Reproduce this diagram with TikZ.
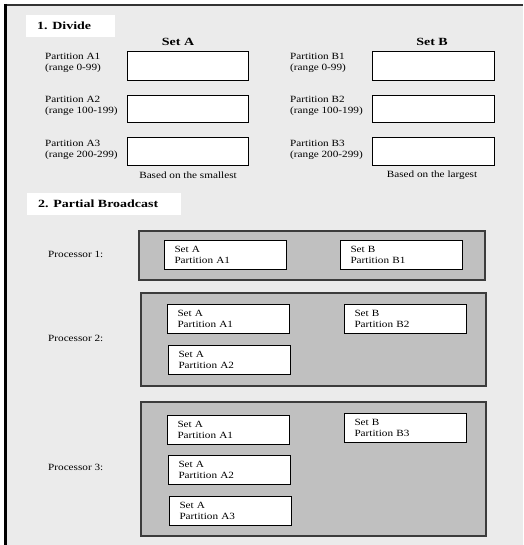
\documentclass[tikz,border=0pt]{standalone}
\usepackage{fontspec}
\setmainfont{Liberation Serif}
\newfontfamily\rfont[FakeStretch=1.18]{Liberation Serif}
\newfontfamily\bfont[FakeStretch=1.27]{Liberation Serif}
\definecolor{bgray}{HTML}{EBEBEB}
\definecolor{pgray}{HTML}{C0C0C0}
\definecolor{pedge}{HTML}{3C3C3C}
\begin{document}
\begin{tikzpicture}[x=1pt,y=-1pt,
  rtext/.style={font=\rfont\fontsize{9.5}{11}\selectfont, inner sep=0pt, align=left},
  btext/.style={font=\bfont\bfseries\fontsize{11}{12}\selectfont, inner sep=0pt},
  titlebox/.style={fill=white, draw=none},
  emptybox/.style={draw=black, line width=1pt, fill=white},
  procbox/.style={draw=pedge, line width=1.4pt, fill=pgray},
  itembox/.style={draw=black, line width=1pt, fill=white, anchor=north west,
    minimum width=122, minimum height=29, text width=102, inner xsep=10pt, inner ysep=0pt,
    align=left, font=\rfont\fontsize{9.5}{11}\selectfont}
]
\useasboundingbox (0,0) rectangle (523,545);
% background and frame
\fill[white] (0,0) rectangle (523,545);
\fill[bgray] (5,5) rectangle (523,545);
\draw[line width=2pt, black!80] (4,5.5) -- (523,5.5);
\draw[line width=3pt, black] (5.5,4) -- (5.5,545);

% ---- 1. Divide ----
\fill[titlebox] (26,15) rectangle (115,37);
\node[btext, anchor=west] (t1) at (37,26) {1. Divide};
\node[btext] (hA) at (178,42) {Set A};
\node[btext] (hB) at (432,42) {Set B};

\draw[emptybox] (127,52) rectangle (248,81);
\draw[emptybox] (127,96) rectangle (248,123);
\draw[emptybox] (127,138) rectangle (248,166);
\draw[emptybox] (372,52) rectangle (494,81);
\draw[emptybox] (372,96) rectangle (494,123);
\draw[emptybox] (372,138) rectangle (494,166);

\node[rtext, anchor=west] (lA1) at (45,63) {Partition A1\\(range 0-99)};
\node[rtext, anchor=west] (lA2) at (45,106) {Partition A2\\(range 100-199)};
\node[rtext, anchor=west] (lA3) at (45,150) {Partition A3\\(range 200-299)};
\node[rtext, anchor=west] (lB1) at (290,63) {Partition B1\\(range 0-99)};
\node[rtext, anchor=west] (lB2) at (290,106) {Partition B2\\(range 100-199)};
\node[rtext, anchor=west] (lB3) at (290,150) {Partition B3\\(range 200-299)};

\node[rtext] (bsA) at (188,175) {Based on the smallest};
\node[rtext] (bsB) at (432,175) {Based on the largest};

% ---- 2. Partial Broadcast ----
\fill[titlebox] (27,193) rectangle (181,215);
\node[btext, anchor=west] (t2) at (38,204) {2. Partial Broadcast};

% Processor 1
\draw[procbox] (139,231) rectangle (485,280);
\node[rtext, anchor=west] (pl1) at (48,254) {Processor 1:};
\node[itembox] (p1a1) at (164,240) {Set A\\Partition A1};
\node[itembox] (p1b1) at (340,240) {Set B\\Partition B1};

% Processor 2
\draw[procbox] (141,293) rectangle (486,386);
\node[rtext, anchor=west] (pl2) at (48,338) {Processor 2:};
\node[itembox] (p2a1) at (167,304) {Set A\\Partition A1};
\node[itembox] (p2b2) at (344,304) {Set B\\Partition B2};
\node[itembox] (p2a2) at (168,345) {Set A\\Partition A2};

% Processor 3
\draw[procbox] (141,402) rectangle (486,536);
\node[rtext, anchor=west] (pl3) at (48,467) {Processor 3:};
\node[itembox] (p3a1) at (167,415) {Set A\\Partition A1};
\node[itembox] (p3b3) at (344,413) {Set B\\Partition B3};
\node[itembox] (p3a2) at (168,455) {Set A\\Partition A2};
\node[itembox] (p3a3) at (169,496) {Set A\\Partition A3};
\end{tikzpicture}
\end{document}
